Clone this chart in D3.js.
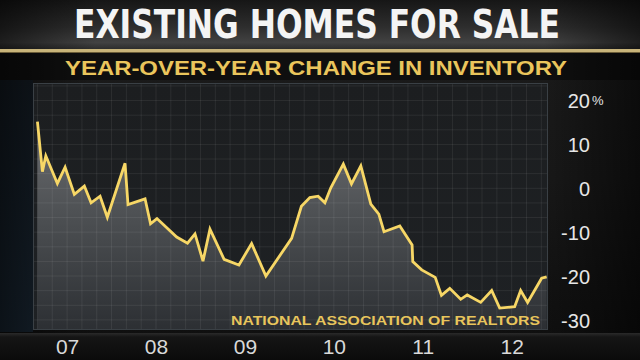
<!DOCTYPE html>
<html>
<head>
<meta charset="utf-8">
<script src="https://cdn.jsdelivr.net/npm/d3@7"></script>
<style>
html,body{margin:0;padding:0;background:#111;}
svg{display:block;}
</style>
</head>
<body>
<svg id="chart" width="640" height="360"></svg>
<script>
// ---- data (month index: 0 = Jan 2007; value = YoY % change in inventory) ----
const months = [2.00,2.67,3.13,4.69,5.73,6.98,8.33,9.24,10.45,11.43,13.82,14.22,16.52,17.26,18.13,20.79,22.25,23.26,24.34,25.28,27.19,29.19,30.90,32.83,36.30,37.62,38.76,39.88,40.79,41.59,43.28,44.38,45.64,46.99,48.07,48.77,50.90,52.56,52.65,53.86,55.68,56.52,57.64,59.12,60.00,61.82,63.30,64.38,66.40,67.21,68.15,70.04,70.72];
const values = [15.2,3.8,7.4,1.1,4.8,-1.4,0.5,-3.3,-1.8,-6.6,5.7,-3.7,-2.4,-8.1,-6.9,-11.1,-12.5,-10.4,-16.6,-9.3,-16.2,-17.5,-12.6,-20.0,-11.4,-4.1,-2.1,-1.8,-3.3,0.1,5.5,1.0,5.1,-3.6,-5.9,-9.9,-8.6,-12.9,-16.7,-18.6,-20.3,-24.4,-22.8,-25.3,-24.3,-26.0,-23.3,-27.3,-27.0,-23.3,-26.0,-20.5,-20.2];
const yearLabels = ["07","08","09","10","11","12"];
const yearLabelMonths = [6,18,30,42,54,66];
const yTicks = [20,10,0,-10,-20,-30];
const title = "EXISTING HOMES FOR SALE";
const subtitle = "YEAR-OVER-YEAR CHANGE IN INVENTORY";
const source = "NATIONAL ASSOCIATION OF REALTORS";

const data = months.map((m,i)=>({m, v: values[i]}));

const svg = d3.select("#chart");
const W = 640, H = 360;
const plot = {x0:33, x1:548, y0:83, y1:330};

const defs = svg.append("defs");
function lg(id, stops, x2=0, y2=1){
  const g = defs.append("linearGradient").attr("id",id).attr("x1",0).attr("y1",0).attr("x2",x2).attr("y2",y2);
  stops.forEach(s=>g.append("stop").attr("offset",s[0]).attr("stop-color",s[1]).attr("stop-opacity", s[2]==null?1:s[2]));
}
lg("bg",[[0,"#1b1b1b"],[0.5,"#181818"],[1,"#0e0e0e"]]);
lg("titleBand",[[0,"#161616"],[0.55,"#2e2e2e"],[0.85,"#424242"],[1,"#2a2a2a"]]);
lg("sideShade",[[0,"#000",0.55],[0.15,"#000",0],[0.85,"#000",0],[1,"#000",0.55]],1,0);
lg("plotBg",[[0,"#1c1e20"],[1,"#1e2124"]]);
lg("areaFill",[[0,"#6b6d70"],[0.5,"#4a4d50"],[1,"#2c2f33"]]);
lg("bottomBand",[[0,"#2a2a2a"],[0.15,"#151515"],[1,"#0b0b0b"]]);
lg("leftPanel",[[0,"#141c24"],[1,"#1a2835"]]);

// background
svg.append("rect").attr("width",W).attr("height",H).attr("fill","url(#bg)");
svg.append("rect").attr("x",0).attr("y",0).attr("width",W).attr("height",50).attr("fill","url(#titleBand)");
svg.append("rect").attr("x",0).attr("y",52).attr("width",W).attr("height",28).attr("fill","#0f0f0f");
svg.append("rect").attr("x",0).attr("y",80).attr("width",plot.x0).attr("height",252).attr("fill","url(#leftPanel)");
svg.append("rect").attr("x",0).attr("y",0).attr("width",W).attr("height",H).attr("fill","url(#sideShade)");
// gold rule
svg.append("rect").attr("x",0).attr("y",49).attr("width",W).attr("height",3).attr("fill","#c8b47a");
svg.append("rect").attr("x",0).attr("y",52).attr("width",W).attr("height",1).attr("fill","#6a5c38");

// titles
svg.append("text").text(title)
  .attr("x",317).attr("y",38).attr("text-anchor","middle")
  .attr("font-family","'Liberation Sans Narrow','DejaVu Sans Condensed',sans-serif")
  .attr("font-weight","bold").attr("font-size",39).attr("fill","#f4f4f4")
  .attr("textLength",486).attr("lengthAdjust","spacingAndGlyphs");
svg.append("text").text(subtitle)
  .attr("x",316).attr("y",75).attr("text-anchor","middle")
  .attr("font-family","'Liberation Sans Narrow','Liberation Sans',sans-serif")
  .attr("font-weight","bold").attr("font-size",21).attr("fill","#eac55c")
  .attr("textLength",502).attr("lengthAdjust","spacingAndGlyphs");

// scales
const x = d3.scaleLinear().domain([1.4,70.9]).range([plot.x0, plot.x1]);
const y = d3.scaleLinear().domain([-32.3,24]).range([plot.y1, plot.y0]);

// plot background
svg.append("rect").attr("x",plot.x0).attr("y",plot.y0).attr("width",plot.x1-plot.x0).attr("height",plot.y1-plot.y0)
  .attr("fill","url(#plotBg)");

const clip = defs.append("clipPath").attr("id","plotClip");
clip.append("rect").attr("x",plot.x0).attr("y",plot.y0).attr("width",plot.x1-plot.x0).attr("height",plot.y1-plot.y0);

const g = svg.append("g").attr("clip-path","url(#plotClip)");

// area
const area = d3.area().x(d=>x(d.m)).y0(plot.y1).y1(d=>y(d.v)).curve(d3.curveLinear);
g.append("path").datum(data).attr("d",area).attr("fill","url(#areaFill)");

// grid
const vGrid = d3.range(0,74,2);
const hGrid = d3.range(-40,30,10/3);
g.append("g").selectAll("line").data(vGrid).join("line")
  .attr("x1",d=>x(d)).attr("x2",d=>x(d)).attr("y1",plot.y0).attr("y2",plot.y1)
  .attr("stroke","#ffffff").attr("stroke-opacity",0.07).attr("stroke-width",1);
g.append("g").selectAll("line").data(hGrid).join("line")
  .attr("y1",d=>y(d)).attr("y2",d=>y(d)).attr("x1",plot.x0).attr("x2",plot.x1)
  .attr("stroke","#ffffff").attr("stroke-opacity",0.07).attr("stroke-width",1);

// line
const line = d3.line().x(d=>x(d.m)).y(d=>y(d.v)).curve(d3.curveLinear);
g.append("path").datum(data).attr("d",line).attr("fill","none")
  .attr("stroke","#f7d766").attr("stroke-width",2.8).attr("stroke-linejoin","miter");

// plot border
svg.append("rect").attr("x",plot.x0+0.5).attr("y",plot.y0+0.5).attr("width",plot.x1-plot.x0-1).attr("height",plot.y1-plot.y0-1)
  .attr("fill","none").attr("stroke","#3a4045").attr("stroke-width",1);

// source
svg.append("text").text(source)
  .attr("x",540).attr("y",325).attr("text-anchor","end")
  .attr("font-family","'Liberation Sans','Arial',sans-serif")
  .attr("font-weight","bold").attr("font-size",13).attr("fill","#e8c55c")
  .attr("textLength",309).attr("lengthAdjust","spacingAndGlyphs");

// bottom band
svg.append("rect").attr("x",0).attr("y",333).attr("width",W).attr("height",27).attr("fill","url(#bottomBand)");

// right y axis
const yAxis = d3.axisRight(y).tickValues(yTicks).tickSize(0).tickPadding(0).tickFormat(d=>d);
const ya = svg.append("g").attr("transform","translate(590,0)").call(yAxis);
ya.select(".domain").remove();
ya.selectAll("text").attr("text-anchor","end").attr("x",0).attr("dy","0.36em")
  .attr("font-family","'Liberation Sans','Arial',sans-serif").attr("font-size",20).attr("fill","#e6e6e6");
svg.append("text").text("%").attr("x",592).attr("y",y(20)).attr("dy","0.36em")
  .attr("font-family","'Liberation Sans','Arial',sans-serif").attr("font-size",13).attr("fill","#e6e6e6");

// x axis labels
const xAxis = d3.axisBottom(x).tickValues(yearLabelMonths).tickSize(0).tickPadding(0)
  .tickFormat((d,i)=>yearLabels[i]);
const xa = svg.append("g").attr("transform","translate(0,339)").call(xAxis);
xa.select(".domain").remove();
xa.selectAll("text").attr("y",0).attr("dy","0.71em")
  .attr("font-family","'Liberation Sans','Arial',sans-serif").attr("font-size",21).attr("fill","#d9d9d9");
</script>
</body>
</html>
